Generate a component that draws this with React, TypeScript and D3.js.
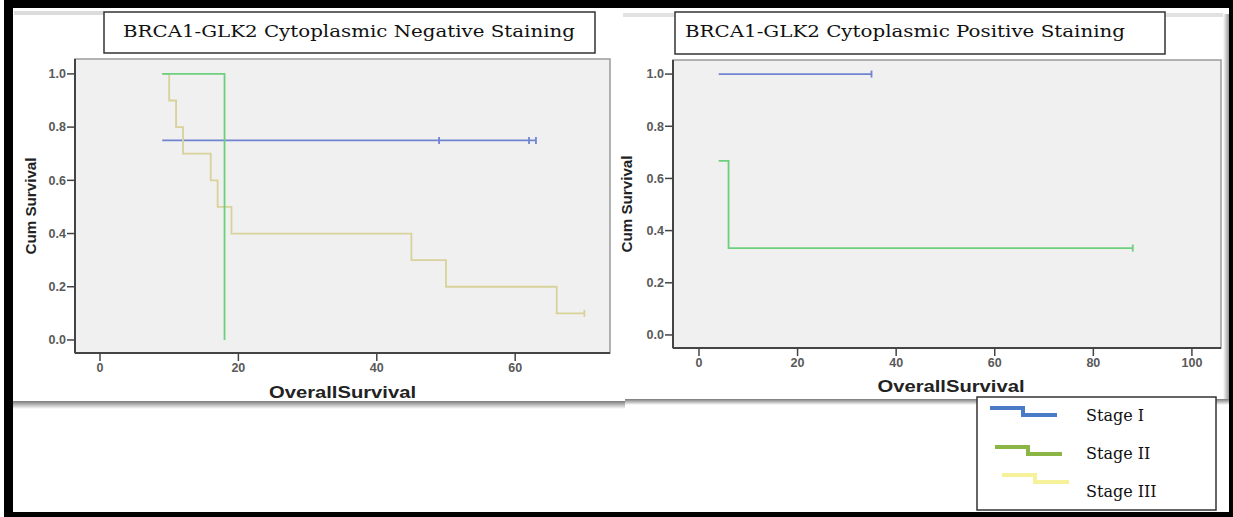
import React from 'react';
import * as d3 from 'd3';

const W = 1233;
const H = 517;

// y ticks shared by both panels
const yTicks = [0, 0.2, 0.4, 0.6, 0.8, 1.0];
const negXTicks = [0, 20, 40, 60];
const posXTicks = [0, 20, 40, 60, 80, 100];

// negative staining panel
const negITimes = [9, 63];
const negISurv = [0.75, 0.75];
const negICens = [49, 62, 63];
const negIITimes = [9, 18];
const negIISurv = [1.0, 0.0];
const negIICens: number[] = [];
const negIIITimes = [9, 10, 11, 12, 16, 17, 19, 45, 50, 66, 70];
const negIIISurv = [1.0, 0.9, 0.8, 0.7, 0.6, 0.5, 0.4, 0.3, 0.2, 0.1, 0.1];
const negIIICens = [70];

// positive staining panel
const posITimes = [4, 35];
const posISurv = [1.0, 1.0];
const posICens = [35];
const posIITimes = [4, 6, 88];
const posIISurv = [0.667, 0.333, 0.333];
const posIICens = [88];

const stageLabels = ['Stage I', 'Stage II', 'Stage III'];
const lineColors = ['#7184cf', '#6ccf7e', '#d8d19a'];
const legendColors = ['#4a7bc6', '#8bb545', '#f6f29c'];

const titleNeg = 'BRCA1-GLK2 Cytoplasmic Negative Staining';
const titlePos = 'BRCA1-GLK2 Cytoplasmic Positive Staining';

type Series = { times: number[]; surv: number[]; cens: number[]; color: string };

const sans = 'Liberation Sans, Arial, sans-serif';

const Panel = ({ box, xDomain, yDomain, xTicks, series, yTitleX, xTitleY }: any) => {
  const x = d3.scaleLinear().domain(xDomain).range([box.left, box.right]);
  const y = d3.scaleLinear().domain(yDomain).range([box.bottom, box.top]);
  const line = d3
    .line<[number, number]>()
    .x((d) => x(d[0]))
    .y((d) => y(d[1]))
    .curve(d3.curveStepAfter);

  const survAt = (s: Series, t: number) => {
    let v = s.surv[0];
    s.times.forEach((tt, i) => {
      if (tt <= t) v = s.surv[i];
    });
    return v;
  };

  return (
    <g>
      <rect x={box.left} y={box.top} width={box.right - box.left} height={box.bottom - box.top} fill="#f0f0f0" stroke="#9a9a9a" strokeWidth={1.5} />
      {series.map((s: Series, i: number) => (
        <g key={i}>
          <path d={line(s.times.map((t, j) => [t, s.surv[j]]) as any) || ''} fill="none" stroke={s.color} strokeWidth={1.8} />
          {s.cens.map((c, j) => (
            <line key={j} x1={x(c)} x2={x(c)} y1={y(survAt(s, c)) - 3.5} y2={y(survAt(s, c)) + 3.5} stroke={s.color} strokeWidth={1.8} />
          ))}
        </g>
      ))}
      {/* axes */}
      <line x1={box.left} x2={box.left} y1={box.top} y2={box.bottom} stroke="#444" strokeWidth={2} />
      <line x1={box.left} x2={box.right} y1={box.bottom} y2={box.bottom} stroke="#444" strokeWidth={2} />
      {yTicks.map((t) => (
        <g key={t}>
          <line x1={box.left - 8} x2={box.left} y1={y(t)} y2={y(t)} stroke="#444" strokeWidth={1.5} />
          <text x={box.left - 9} y={y(t)} dy="0.35em" textAnchor="end" fontSize={12.5} fontWeight="bold" fill="#595959" fontFamily={sans}>
            {d3.format('.1f')(t)}
          </text>
        </g>
      ))}
      {xTicks.map((t: number) => (
        <g key={t}>
          <line x1={x(t)} x2={x(t)} y1={box.bottom} y2={box.bottom + 8} stroke="#444" strokeWidth={1.5} />
          <text x={x(t)} y={box.bottom + 15} dy="0.35em" textAnchor="middle" fontSize={12.5} fontWeight="bold" fill="#595959" fontFamily={sans}>
            {t}
          </text>
        </g>
      ))}
      <text
        transform={`translate(${yTitleX},${(box.top + box.bottom) / 2}) rotate(-90)`}
        textAnchor="middle"
        dy="0.35em"
        fontSize={15.5}
        fontWeight="bold"
        fill="#222"
        fontFamily={sans}
        textLength={97}
        lengthAdjust="spacingAndGlyphs"
      >
        Cum Survival
      </text>
      <text x={(box.left + box.right) / 2 + (box.left < 100 ? 0 : 4)} y={xTitleY} dy="0.35em" textAnchor="middle" fontSize={16} fontWeight="bold" fill="#222" fontFamily={sans} textLength={147} lengthAdjust="spacingAndGlyphs">
        OverallSurvival
      </text>
    </g>
  );
};

const App = () => {
  const negSeries: Series[] = [
    { times: negITimes, surv: negISurv, cens: negICens, color: lineColors[0] },
    { times: negIIITimes, surv: negIIISurv, cens: negIIICens, color: lineColors[2] },
    { times: negIITimes, surv: negIISurv, cens: negIICens, color: lineColors[1] },
  ];
  const posSeries: Series[] = [
    { times: posITimes, surv: posISurv, cens: posICens, color: lineColors[0] },
    { times: posIITimes, surv: posIISurv, cens: posIICens, color: lineColors[1] },
  ];

  const serif = 'DejaVu Serif, Liberation Serif, serif';

  return (
    <svg width={W} height={H} style={{ position: 'absolute', left: 0, top: 0 }}>
      <defs>
        <linearGradient id="shadowV" x1="0" y1="0" x2="0" y2="1">
          <stop offset="0" stopColor="#7a7a7a" />
          <stop offset="1" stopColor="#ffffff" />
        </linearGradient>
        <linearGradient id="shadowH" x1="0" y1="0" x2="1" y2="0">
          <stop offset="0" stopColor="#ffffff" />
          <stop offset="1" stopColor="#9a9a9a" />
        </linearGradient>
      </defs>
      {/* outer frame */}
      <rect x={0} y={0} width={W} height={H} fill="#000" />
      <rect x={0} y={0} width={4} height={H} fill="#fff" />
      <rect x={13} y={8} width={1216} height={504} fill="#fff" />
      {/* panel shadows */}
      <rect x={13} y={401} width={612} height={8} fill="url(#shadowV)" />
      <rect x={625} y={399} width={604} height={6} fill="url(#shadowV)" />
      <rect x={1223} y={14} width={6} height={385} fill="url(#shadowH)" />
      <rect x={14} y={11} width={90} height={4} fill="#dcdcdc" />
      <rect x={623} y={13} width={52} height={4} fill="#e2e2e2" />
      <rect x={1166} y={13} width={57} height={4} fill="#e2e2e2" />

      <Panel
        box={{ left: 75, right: 610, top: 59, bottom: 353 }}
        xDomain={[-3.61, 73.7]}
        yDomain={[-0.049, 1.056]}
        xTicks={negXTicks}
        series={negSeries}
        yTitleX={31}
        xTitleY={392}
      />
      <Panel
        box={{ left: 673, right: 1221, top: 60, bottom: 348 }}
        xDomain={[-5.27, 105.9]}
        yDomain={[-0.05, 1.054]}
        xTicks={posXTicks}
        series={posSeries}
        yTitleX={627}
        xTitleY={386}
      />

      {/* titles */}
      <rect x={104} y={12} width={491} height={41} fill="#fff" stroke="#333" strokeWidth={1.5} />
      <text x={349} y={31} dy="0.35em" textAnchor="middle" fontSize={17} fontFamily={serif} fill="#111" textLength={452} lengthAdjust="spacingAndGlyphs">
        {titleNeg}
      </text>
      <rect x={675} y={12} width={490} height={42} fill="#fff" stroke="#333" strokeWidth={1.5} />
      <text x={905} y={31} dy="0.35em" textAnchor="middle" fontSize={17} fontFamily={serif} fill="#111" textLength={440} lengthAdjust="spacingAndGlyphs">
        {titlePos}
      </text>

      {/* legend */}
      <rect x={977} y={397} width={239} height={113} fill="#fff" stroke="#333" strokeWidth={1.5} />
      {stageLabels.map((lab, i) => {
        const lx = [990, 995, 1002][i];
        const ly = [408, 447, 475][i];
        const ty = [415, 453, 491][i];
        return (
          <g key={lab}>
            <path
              d={`M${lx},${ly} H${lx + 33} V${ly + 7} H${lx + 67}`}
              fill="none"
              stroke={legendColors[i]}
              strokeWidth={4}
            />
            <text x={1086} y={ty} dy="0.35em" fontSize={16} fontFamily={serif} fill="#111">
              {lab}
            </text>
          </g>
        );
      })}
    </svg>
  );
};

export default App;
